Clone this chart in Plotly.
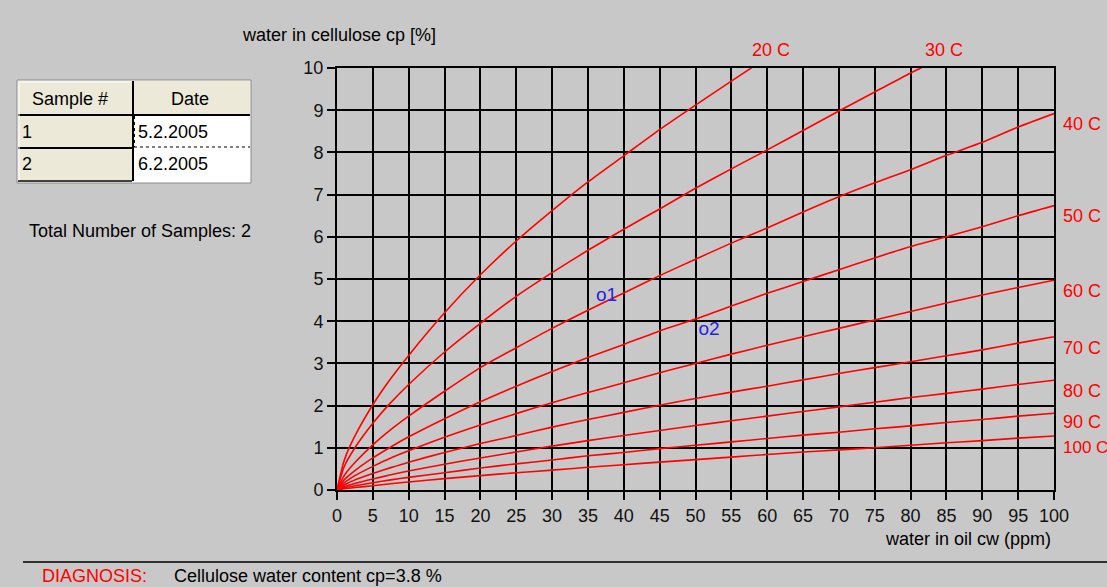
import plotly.graph_objects as go

# ---------------- data ----------------
water_in_oil = [0, 1, 2.5, 5, 7.5, 10, 15, 20, 25, 30, 35, 40, 45, 50, 55, 60,
                65, 70, 75, 80, 85, 90, 95, 100]

temperatures = ["20 C", "30 C", "40 C", "50 C", "60 C", "70 C", "80 C", "90 C", "100 C"]

cp_20 = [0, 0.70, 1.28, 2.02, 2.64, 3.19, 4.20, 5.10, 5.90, 6.62, 7.30, 7.92, 8.54, 9.12,
         9.69, 10.25, None, None, None, None, None, None, None, None]
cp_30 = [0, 0.55, 1.00, 1.58, 2.07, 2.50, 3.27, 3.95, 4.59, 5.15, 5.68, 6.18, 6.66, 7.15,
         7.61, 8.06, 8.52, 8.98, 9.43, 9.88, 10.30, None, None, None]
cp_40 = [0, 0.34, 0.65, 1.07, 1.43, 1.75, 2.34, 2.90, 3.37, 3.83, 4.26, 4.67, 5.08, 5.47,
         5.85, 6.21, 6.59, 6.95, 7.28, 7.59, 7.93, 8.24, 8.60, 8.92]
cp_50 = [0, 0.24, 0.46, 0.76, 1.02, 1.26, 1.69, 2.09, 2.46, 2.81, 3.14, 3.45, 3.77, 4.05,
         4.36, 4.66, 4.94, 5.22, 5.50, 5.77, 6.00, 6.24, 6.50, 6.74]
cp_60 = [0, 0.17, 0.34, 0.56, 0.76, 0.93, 1.25, 1.54, 1.81, 2.07, 2.31, 2.54, 2.78, 3.00,
         3.22, 3.43, 3.63, 3.83, 4.03, 4.23, 4.43, 4.62, 4.80, 4.97]
cp_70 = [0, 0.12, 0.24, 0.39, 0.53, 0.66, 0.89, 1.10, 1.29, 1.49, 1.67, 1.84, 2.01, 2.17,
         2.32, 2.46, 2.61, 2.76, 2.90, 3.04, 3.18, 3.32, 3.48, 3.63]
cp_80 = [0, 0.08, 0.155, 0.26, 0.36, 0.45, 0.61, 0.76, 0.90, 1.04, 1.17, 1.29, 1.41, 1.53,
         1.64, 1.75, 1.86, 1.97, 2.08, 2.19, 2.29, 2.39, 2.50, 2.60]
cp_90 = [0, 0.05, 0.10, 0.17, 0.24, 0.30, 0.41, 0.52, 0.62, 0.71, 0.81, 0.89, 0.98, 1.06,
         1.14, 1.22, 1.30, 1.37, 1.45, 1.52, 1.60, 1.67, 1.75, 1.82]
cp_100 = [0, 0.03, 0.06, 0.10, 0.15, 0.19, 0.27, 0.34, 0.41, 0.47, 0.54, 0.60, 0.66, 0.72,
          0.78, 0.84, 0.90, 0.95, 1.00, 1.06, 1.12, 1.17, 1.23, 1.28]

sample_labels = ["o1", "o2"]
sample_cw = [37.6, 51.9]
sample_cp = [4.58, 3.78]

table_header = ["Sample #", "Date"]
sample_numbers = ["1", "2"]
sample_dates = ["5.2.2005", "6.2.2005"]
total_text = "Total Number of Samples: 2"
diagnosis_label = "DIAGNOSIS:"
diagnosis_text = "Cellulose water content cp=3.8 %"

x_ticks = list(range(0, 101, 5))
y_ticks = list(range(0, 11, 1))

# ---------------- layout helpers ----------------
W, H = 1107, 587
PL, PR, PT, PB = 337, 1054, 68, 490   # plot-area pixel box
FONT = "Liberation Sans, Arial, sans-serif"
BG = "#C8C8C8"
BEIGE = "#ECE9D8"


def px(x):
    return (x - PL) / (PR - PL)


def py(y):
    return (PB - y) / (PB - PT)


curves = [cp_20, cp_30, cp_40, cp_50, cp_60, cp_70, cp_80, cp_90, cp_100]

fig = go.Figure()
for name, vals in zip(temperatures, curves):
    fig.add_trace(go.Scatter(x=water_in_oil, y=vals, mode="lines", name=name,
                             line=dict(color="#FF0000", width=1.6, shape="spline",
                                       smoothing=0.6),
                             connectgaps=False, hoverinfo="skip", showlegend=False))

fig.add_trace(go.Scatter(x=sample_cw, y=sample_cp, mode="text", text=sample_labels,
                         textfont=dict(family=FONT, size=19, color="#2323E6"),
                         textposition="middle center", showlegend=False,
                         cliponaxis=False, hoverinfo="skip"))

annotations = []
# temperature labels (pixel positions of the label centres / left edges)
top_label_px = {"20 C": (771, 50), "30 C": (944, 50)}
right_label_py = {"40 C": 124, "50 C": 216, "60 C": 291, "70 C": 348,
                  "80 C": 391, "90 C": 422, "100 C": 447}
for t in temperatures:
    if t in top_label_px:
        x0, y0 = top_label_px[t]
        annotations.append(dict(x=px(x0), y=py(y0), xref="paper", yref="paper", text=t,
                                showarrow=False, xanchor="center", yanchor="middle",
                                font=dict(family=FONT, size=18, color="#FF0000")))
    else:
        size = 17 if len(t) > 4 else 18
        annotations.append(dict(x=px(1061), y=py(right_label_py[t]), xref="paper",
                                yref="paper", text=t, showarrow=False,
                                xanchor="left", yanchor="middle",
                                font=dict(family=FONT, size=size, color="#FF0000")))

# axis titles
annotations.append(dict(x=px(240), y=py(35), xref="paper", yref="paper",
                        text="water in cellulose cp [%]", showarrow=False,
                        xanchor="left", yanchor="middle",
                        font=dict(family=FONT, size=18, color="#000000")))
annotations.append(dict(x=px(1053), y=py(539), xref="paper", yref="paper",
                        text="water in oil cw (ppm)", showarrow=False,
                        xanchor="right", yanchor="middle",
                        font=dict(family=FONT, size=18, color="#000000")))

# table texts
annotations.append(dict(x=px(70), y=py(99), xref="paper", yref="paper", text=table_header[0],
                        showarrow=False, xanchor="center", yanchor="middle",
                        font=dict(family=FONT, size=18, color="#000000")))
annotations.append(dict(x=px(190), y=py(99), xref="paper", yref="paper", text=table_header[1],
                        showarrow=False, xanchor="center", yanchor="middle",
                        font=dict(family=FONT, size=18, color="#000000")))
for i, (n, d) in enumerate(zip(sample_numbers, sample_dates)):
    yy = 132 + i * 32
    annotations.append(dict(x=px(20), y=py(yy), xref="paper", yref="paper", text=n,
                            showarrow=False, xanchor="left", yanchor="middle",
                            font=dict(family=FONT, size=18, color="#000000")))
    annotations.append(dict(x=px(136), y=py(yy), xref="paper", yref="paper", text=d,
                            showarrow=False, xanchor="left", yanchor="middle",
                            font=dict(family=FONT, size=18, color="#000000")))

annotations.append(dict(x=px(27), y=py(231), xref="paper", yref="paper", text=total_text,
                        showarrow=False, xanchor="left", yanchor="middle",
                        font=dict(family=FONT, size=18, color="#000000")))
annotations.append(dict(x=px(40), y=py(576), xref="paper", yref="paper", text=diagnosis_label,
                        showarrow=False, xanchor="left", yanchor="middle",
                        font=dict(family=FONT, size=18, color="#FF0000")))
annotations.append(dict(x=px(172), y=py(576), xref="paper", yref="paper", text=diagnosis_text,
                        showarrow=False, xanchor="left", yanchor="middle",
                        font=dict(family=FONT, size=18, color="#000000")))

shapes = []


def rect(x0, y0, x1, y1, fill, line_color="rgba(0,0,0,0)", lw=0, dash="solid"):
    shapes.append(dict(type="rect", xref="paper", yref="paper",
                       x0=px(x0), x1=px(x1), y0=py(y1), y1=py(y0),
                       fillcolor=fill, line=dict(color=line_color, width=lw, dash=dash),
                       layer="below"))


def line(x0, y0, x1, y1, color, lw, dash="solid", layer="above"):
    shapes.append(dict(type="line", xref="paper", yref="paper",
                       x0=px(x0), x1=px(x1), y0=py(y0), y1=py(y1),
                       line=dict(color=color, width=lw, dash=dash), layer=layer))


# table
rect(17, 80, 251, 183, "#FFFFFF", "#8A8A8A", 1)
rect(18, 81, 132, 114, BEIGE)
rect(134, 81, 250, 114, BEIGE)
rect(18, 116, 132, 147, BEIGE)
rect(18, 149, 132, 180, BEIGE)
line(18, 115, 250, 115, "#000000", 2)
line(133, 81, 133, 181, "#000000", 2)
line(18, 148, 132, 148, "#000000", 2)
line(18, 181, 132, 181, "#000000", 1.5)
line(134, 147, 250, 147, "#000000", 1, dash="dot")
line(134.5, 116, 134.5, 147, "#000000", 1, dash="dot")
line(20, 82, 131, 82, "#FFFFFF", 1)
line(19, 82, 19, 180, "#FFFFFF", 1)

# bottom separator
line(23, 562, 1107, 562, "#303030", 2)

fig.update_layout(
    width=W, height=H,
    margin=dict(l=PL, r=W - PR, t=PT, b=H - PB, autoexpand=False),
    paper_bgcolor=BG, plot_bgcolor=BG,
    showlegend=False,
    annotations=annotations,
    shapes=shapes,
    xaxis=dict(range=[0, 100], tickmode="array",
               tickvals=x_ticks, ticktext=[str(v) for v in x_ticks],
               showgrid=True, gridcolor="#000000", gridwidth=2,
               showline=True, linecolor="#000000", linewidth=2, mirror=True,
               ticks="outside", ticklen=8, tickwidth=1.5, tickcolor="#000000",
               tickfont=dict(family=FONT, size=18, color="#111111"),
               zeroline=False, fixedrange=True, automargin=False),
    yaxis=dict(range=[0, 10], tickmode="array",
               tickvals=y_ticks, ticktext=[str(v) for v in y_ticks],
               showgrid=True, gridcolor="#000000", gridwidth=2,
               showline=True, linecolor="#000000", linewidth=2, mirror=True,
               ticks="outside", ticklen=8, tickwidth=1.5, tickcolor="#000000",
               tickfont=dict(family=FONT, size=18, color="#111111"),
               zeroline=False, fixedrange=True, automargin=False),
)

page_css = ("document.body.style.margin='0';"
            "document.body.style.padding='0';"
            "document.body.style.overflow='hidden';"
            "document.body.style.background='" + BG + "';")

fig.write_html("out.html", post_script=page_css, config={"displayModeBar": False})
